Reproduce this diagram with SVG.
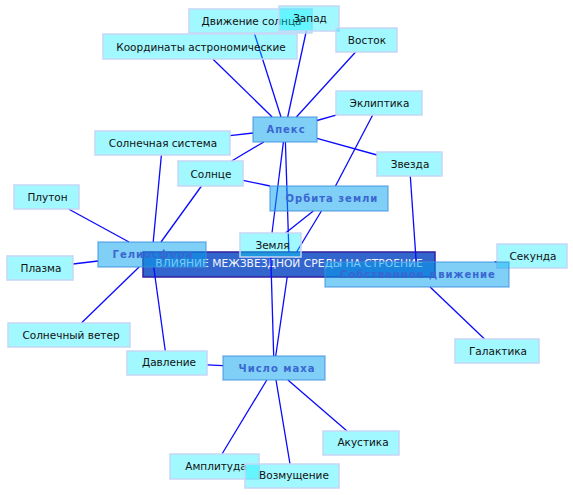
<svg xmlns="http://www.w3.org/2000/svg" width="573" height="495" viewBox="0 0 573 495">
<style>
.lt rect{fill:#00eeff;fill-opacity:.37;stroke:#c6d6f6;stroke-width:1.5}
.dk rect{fill:#00a0f0;fill-opacity:.5;stroke:#3c8ede;stroke-opacity:.6;stroke-width:1.5}
.lt text{font-family:"DejaVu Sans",sans-serif;font-size:10.5px;fill:#111;text-anchor:middle}
.dk text{font-family:"DejaVu Sans",sans-serif;font-size:10px;font-weight:bold;letter-spacing:1px;fill:#3a66d0;text-anchor:middle}
.ctr rect{fill:#3366cc;stroke:#3020a0;stroke-width:1.5}
.ctr text{font-family:"DejaVu Sans",sans-serif;font-size:10.7px;fill:#f4f6ff;text-anchor:middle}
#connectors line{stroke:#0a0aff;stroke-width:1.3}
</style>
<rect width="573" height="495" fill="#fff"/>
<g id="n-center" class="ctr"><rect x="143" y="252" width="292" height="25"/><text x="289" y="266.5">ВЛИЯНИЕ МЕЖЗВЕЗДНОЙ СРЕДЫ НА СТРОЕНИЕ</text></g>
<g id="connectors">
<line x1="212.8" y1="59" x2="272.2" y2="117"/>
<line x1="254.3" y1="33" x2="281" y2="117"/>
<line x1="306.3" y1="31" x2="287.7" y2="117"/>
<line x1="355.6" y1="52" x2="296.4" y2="117"/>
<line x1="317" y1="120.5" x2="336" y2="115.1"/>
<line x1="372.7" y1="115" x2="335.5" y2="186"/>
<line x1="317" y1="138.4" x2="377" y2="155"/>
<line x1="410.3" y1="176" x2="416.2" y2="262"/>
<line x1="230" y1="135.6" x2="253" y2="133"/>
<line x1="231.7" y1="161" x2="263.8" y2="142"/>
<line x1="243" y1="180.4" x2="270" y2="186"/>
<line x1="285.4" y1="142" x2="288.9" y2="252"/>
<line x1="283.4" y1="142" x2="272" y2="233"/>
<line x1="313.3" y1="211" x2="285.6" y2="233"/>
<line x1="321.4" y1="211" x2="296.6" y2="252"/>
<line x1="270.8" y1="257" x2="273.7" y2="356"/>
<line x1="287.2" y1="277" x2="275.7" y2="356"/>
<line x1="68.5" y1="209" x2="129" y2="242"/>
<line x1="73" y1="264" x2="98" y2="261"/>
<line x1="161.4" y1="155" x2="153.2" y2="242"/>
<line x1="201.5" y1="186" x2="161" y2="242"/>
<line x1="139.1" y1="267" x2="81.4" y2="323"/>
<line x1="153.7" y1="267" x2="165.3" y2="351"/>
<line x1="207" y1="364.9" x2="223" y2="365.6"/>
<line x1="266.8" y1="380" x2="222" y2="454"/>
<line x1="276" y1="380" x2="290" y2="464"/>
<line x1="287.9" y1="380" x2="347" y2="431"/>
<line x1="494.7" y1="262" x2="497" y2="261.6"/>
<line x1="430.1" y1="287" x2="484.5" y2="339"/>
</g>
<g id="n-dvizhenie-solnca" class="lt"><rect x="189" y="9" width="123" height="24"/><text x="251.5" y="25">Движение солнца</text></g>
<g id="n-zapad" class="lt"><rect x="279" y="6" width="60" height="25"/><text x="310" y="22">Запад</text></g>
<g id="n-koordinaty" class="lt"><rect x="103" y="34" width="194" height="25"/><text x="201" y="50.5">Координаты астрономические</text></g>
<g id="n-vostok" class="lt"><rect x="336" y="28" width="61" height="24"/><text x="367" y="44">Восток</text></g>
<g id="n-ekliptika" class="lt"><rect x="336" y="91" width="86" height="24"/><text x="379.5" y="107">Эклиптика</text></g>
<g id="n-zvezda" class="lt"><rect x="377" y="152" width="65" height="24"/><text x="410" y="167.5">Звезда</text></g>
<g id="n-solnechnaya-sistema" class="lt"><rect x="95" y="131" width="135" height="24"/><text x="163" y="147">Солнечная система</text></g>
<g id="n-solnce" class="lt"><rect x="178" y="161" width="65" height="25"/><text x="211" y="177.5">Солнце</text></g>
<g id="n-pluton" class="lt"><rect x="14" y="185" width="65" height="24"/><text x="47.5" y="201">Плутон</text></g>
<g id="n-plazma" class="lt"><rect x="7" y="256" width="66" height="24"/><text x="41" y="272">Плазма</text></g>
<g id="n-zemlya" class="lt"><rect x="240" y="233" width="61" height="24"/><text x="272.5" y="249">Земля</text></g>
<g id="n-sekunda" class="lt"><rect x="497" y="244" width="70" height="24"/><text x="533" y="260">Секунда</text></g>
<g id="n-galaktika" class="lt"><rect x="455" y="339" width="84" height="24"/><text x="498" y="355">Галактика</text></g>
<g id="n-solnechny-veter" class="lt"><rect x="8" y="323" width="122" height="24"/><text x="71" y="339">Солнечный ветер</text></g>
<g id="n-davlenie" class="lt"><rect x="127" y="351" width="80" height="24"/><text x="169" y="366">Давление</text></g>
<g id="n-amplituda" class="lt"><rect x="170" y="454" width="89" height="25"/><text x="216" y="470">Амплитуда</text></g>
<g id="n-vozmushchenie" class="lt"><rect x="245" y="464" width="94" height="24"/><text x="294" y="479">Возмущение</text></g>
<g id="n-akustika" class="lt"><rect x="323" y="431" width="76" height="24"/><text x="363" y="446">Акустика</text></g>
<g id="n-apex" class="dk"><rect x="253" y="117" width="64" height="25"/><text x="286" y="133">Апекс</text></g>
<g id="n-orbita-zemli" class="dk"><rect x="270" y="186" width="118" height="25"/><text x="332" y="202">Орбита земли</text></g>
<g id="n-geliosfera" class="dk"><rect x="98" y="242" width="108" height="25"/><text x="153" y="258">Гелиосфера</text></g>
<g id="n-sobstvennoe-dvizhenie" class="dk"><rect x="325" y="262" width="184" height="25"/><text x="418" y="278">Собственное движение</text></g>
<g id="n-chislo-maha" class="dk"><rect x="223" y="356" width="102" height="24"/><text x="277" y="371.5">Число маха</text></g>
</svg>
